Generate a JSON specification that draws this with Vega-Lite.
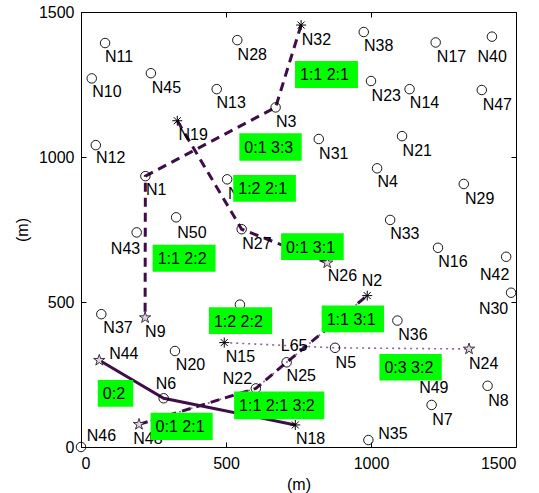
{
  "$schema": "https://vega.github.io/schema/vega-lite/v6.json",
  "width": 435,
  "height": 435,
  "autosize": {"type": "none"},
  "padding": {"left": 81, "top": 12, "right": 23, "bottom": 46},
  "background": "white",
  "config": {
    "font": "Liberation Sans",
    "view": {"stroke": "black", "strokeWidth": 1},
    "axis": {
      "grid": false,
      "domain": false,
      "labelFont": "Liberation Sans",
      "labelFontSize": 16,
      "labelColor": "black",
      "titleFont": "Liberation Sans",
      "titleFontSize": 16,
      "titleFontWeight": "normal",
      "titleColor": "black",
      "tickColor": "black",
      "tickSize": -5,
      "format": "d"
    }
  },
  "datasets": {
    "nodes": [
      {"name": "N1", "x": 222, "y": 934, "kind": "circle"},
      {"name": "N2", "x": 987, "y": 522, "kind": "asterisk"},
      {"name": "N3", "x": 671, "y": 1171, "kind": "circle"},
      {"name": "N4", "x": 1021, "y": 961, "kind": "circle"},
      {"name": "N5", "x": 876, "y": 342, "kind": "circle"},
      {"name": "N6", "x": 285, "y": 168, "kind": "circle"},
      {"name": "N7", "x": 1209, "y": 145, "kind": "circle"},
      {"name": "N8", "x": 1402, "y": 211, "kind": "circle"},
      {"name": "N9", "x": 221, "y": 446, "kind": "star"},
      {"name": "N10", "x": 37, "y": 1271, "kind": "circle"},
      {"name": "N11", "x": 83, "y": 1393, "kind": "circle"},
      {"name": "N12", "x": 51, "y": 1041, "kind": "circle"},
      {"name": "N13", "x": 468, "y": 1234, "kind": "circle"},
      {"name": "N14", "x": 1133, "y": 1234, "kind": "circle"},
      {"name": "N15", "x": 494, "y": 360, "kind": "asterisk"},
      {"name": "N16", "x": 1231, "y": 687, "kind": "circle"},
      {"name": "N17", "x": 1223, "y": 1395, "kind": "circle"},
      {"name": "N18", "x": 739, "y": 76, "kind": "asterisk"},
      {"name": "N19", "x": 332, "y": 1125, "kind": "asterisk"},
      {"name": "N20", "x": 324, "y": 331, "kind": "circle"},
      {"name": "N21", "x": 1107, "y": 1072, "kind": "circle"},
      {"name": "N22", "x": 603, "y": 202, "kind": "circle"},
      {"name": "N23", "x": 1000, "y": 1262, "kind": "circle"},
      {"name": "N24", "x": 1338, "y": 338, "kind": "star"},
      {"name": "N25", "x": 709, "y": 292, "kind": "circle"},
      {"name": "N26", "x": 849, "y": 635, "kind": "star"},
      {"name": "N27", "x": 554, "y": 751, "kind": "circle"},
      {"name": "N28", "x": 539, "y": 1403, "kind": "circle"},
      {"name": "N29", "x": 1320, "y": 907, "kind": "circle"},
      {"name": "N30", "x": 1483, "y": 532, "kind": "circle"},
      {"name": "N31", "x": 820, "y": 1062, "kind": "circle"},
      {"name": "N32", "x": 759, "y": 1455, "kind": "asterisk"},
      {"name": "N33", "x": 1066, "y": 783, "kind": "circle"},
      {"name": "N34", "x": 504, "y": 923, "kind": "circle"},
      {"name": "N35", "x": 991, "y": 24, "kind": "circle"},
      {"name": "N36", "x": 1091, "y": 436, "kind": "circle"},
      {"name": "N37", "x": 70, "y": 458, "kind": "circle"},
      {"name": "N38", "x": 975, "y": 1431, "kind": "circle"},
      {"name": "N39", "x": 548, "y": 491, "kind": "circle"},
      {"name": "N40", "x": 1417, "y": 1415, "kind": "circle"},
      {"name": "N42", "x": 1466, "y": 656, "kind": "circle"},
      {"name": "N43", "x": 192, "y": 740, "kind": "circle"},
      {"name": "N44", "x": 63, "y": 299, "kind": "star"},
      {"name": "N45", "x": 241, "y": 1289, "kind": "circle"},
      {"name": "N46", "x": 0, "y": 0, "kind": "circle"},
      {"name": "N47", "x": 1382, "y": 1231, "kind": "circle"},
      {"name": "N48", "x": 200, "y": 78, "kind": "star"},
      {"name": "N49", "x": 1166, "y": 255, "kind": "circle"},
      {"name": "N50", "x": 328, "y": 792, "kind": "circle"}
    ],
    "labels": [
      {"text": "N1", "x": 224, "y": 890},
      {"text": "N2", "x": 968, "y": 576},
      {"text": "N3", "x": 672, "y": 1125},
      {"text": "N4", "x": 1022, "y": 917},
      {"text": "N5", "x": 878, "y": 292},
      {"text": "N6", "x": 258, "y": 220},
      {"text": "N7", "x": 1211, "y": 97},
      {"text": "N8", "x": 1404, "y": 162},
      {"text": "N9", "x": 221, "y": 400},
      {"text": "N10", "x": 39, "y": 1229},
      {"text": "N11", "x": 83, "y": 1348},
      {"text": "N12", "x": 52, "y": 999},
      {"text": "N13", "x": 467, "y": 1191},
      {"text": "N14", "x": 1134, "y": 1191},
      {"text": "N15", "x": 499, "y": 314},
      {"text": "N16", "x": 1232, "y": 642},
      {"text": "N17", "x": 1227, "y": 1348},
      {"text": "N18", "x": 741, "y": 30},
      {"text": "N19", "x": 336, "y": 1079},
      {"text": "N20", "x": 327, "y": 285},
      {"text": "N21", "x": 1109, "y": 1024},
      {"text": "N22", "x": 489, "y": 239},
      {"text": "N23", "x": 1002, "y": 1214},
      {"text": "N24", "x": 1338, "y": 289},
      {"text": "N25", "x": 709, "y": 248},
      {"text": "N26", "x": 851, "y": 593},
      {"text": "N27", "x": 556, "y": 702},
      {"text": "N28", "x": 540, "y": 1355},
      {"text": "N29", "x": 1324, "y": 860},
      {"text": "N30", "x": 1372, "y": 480},
      {"text": "N31", "x": 821, "y": 1015},
      {"text": "N32", "x": 761, "y": 1406},
      {"text": "N33", "x": 1066, "y": 737},
      {"text": "N34", "x": 507, "y": 876},
      {"text": "N35", "x": 1025, "y": 47},
      {"text": "N36", "x": 1094, "y": 389},
      {"text": "N37", "x": 77, "y": 415},
      {"text": "N38", "x": 976, "y": 1386},
      {"text": "N40", "x": 1367, "y": 1348},
      {"text": "N42", "x": 1376, "y": 596},
      {"text": "N43", "x": 103, "y": 685},
      {"text": "N44", "x": 97, "y": 323},
      {"text": "N45", "x": 244, "y": 1242},
      {"text": "N46", "x": 20, "y": 41},
      {"text": "N47", "x": 1385, "y": 1183},
      {"text": "N48", "x": 180, "y": 30},
      {"text": "N49", "x": 1166, "y": 208},
      {"text": "N50", "x": 332, "y": 742},
      {"text": "L65", "x": 689, "y": 352}
    ],
    "paths": [
      {"route": "A", "style": "dashed", "seq": 1, "x": 759, "y": 1455},
      {"route": "A", "style": "dashed", "seq": 2, "x": 671, "y": 1171},
      {"route": "A", "style": "dashed", "seq": 3, "x": 222, "y": 934},
      {"route": "A", "style": "dashed", "seq": 4, "x": 221, "y": 446},
      {"route": "B", "style": "dashed", "seq": 1, "x": 332, "y": 1125},
      {"route": "B", "style": "dashed", "seq": 2, "x": 554, "y": 751},
      {"route": "B", "style": "dashed", "seq": 3, "x": 849, "y": 635},
      {"route": "C", "style": "dashed", "seq": 1, "x": 200, "y": 78},
      {"route": "C", "style": "dashed", "seq": 2, "x": 603, "y": 202},
      {"route": "C", "style": "dashed", "seq": 3, "x": 709, "y": 292},
      {"route": "C", "style": "dashed", "seq": 4, "x": 987, "y": 522},
      {"route": "D", "style": "solid", "seq": 1, "x": 63, "y": 299},
      {"route": "D", "style": "solid", "seq": 2, "x": 285, "y": 168},
      {"route": "D", "style": "solid", "seq": 3, "x": 739, "y": 76},
      {"route": "E", "style": "thin", "seq": 1, "x": 494, "y": 360},
      {"route": "E", "style": "thin", "seq": 2, "x": 876, "y": 342},
      {"route": "E", "style": "thin", "seq": 3, "x": 1338, "y": 338},
      {"route": "F", "style": "thin", "seq": 1, "x": 200, "y": 78},
      {"route": "F", "style": "thin", "seq": 2, "x": 603, "y": 202},
      {"route": "F", "style": "thin", "seq": 3, "x": 709, "y": 292},
      {"route": "F", "style": "thin", "seq": 4, "x": 987, "y": 522}
    ],
    "boxes": [
      {"text": "1:1 2:1", "x": 738, "xe": 955, "y": 1238, "ye": 1331, "yc": 1285},
      {"text": "0:1 3:3", "x": 546, "xe": 761, "y": 987, "ye": 1082, "yc": 1035},
      {"text": "1:2 2:1", "x": 525, "xe": 741, "y": 846, "ye": 938, "yc": 892},
      {"text": "0:1 3:1", "x": 690, "xe": 906, "y": 645, "ye": 737, "yc": 691},
      {"text": "1:1 2:2", "x": 247, "xe": 464, "y": 604, "ye": 697, "yc": 651},
      {"text": "1:2 2:2", "x": 441, "xe": 659, "y": 390, "ye": 482, "yc": 436},
      {"text": "1:1 3:1", "x": 830, "xe": 1045, "y": 396, "ye": 488, "yc": 442},
      {"text": "0:3 3:2", "x": 1029, "xe": 1244, "y": 229, "ye": 321, "yc": 275},
      {"text": "0:2", "x": 58, "xe": 180, "y": 139, "ye": 231, "yc": 185},
      {"text": "0:1 2:1", "x": 240, "xe": 454, "y": 24, "ye": 118, "yc": 71},
      {"text": "1:1 2:1 3:2", "x": 528, "xe": 839, "y": 96, "ye": 191, "yc": 144}
    ]
  },
  "encoding": {
    "x": {"field": "x", "type": "quantitative", "scale": {"domain": [0, 1500], "nice": false, "zero": false}, "axis": null},
    "y": {"field": "y", "type": "quantitative", "scale": {"domain": [0, 1500], "nice": false, "zero": false}, "axis": null}
  },
  "layer": [
    {
      "data": {"name": "paths"},
      "transform": [{"filter": "datum.style === 'thin'"}],
      "mark": {"type": "line", "color": "#8e6399", "strokeWidth": 1.6, "strokeDash": [2, 4]},
      "encoding": {
        "x": {"field": "x", "type": "quantitative", "scale": {"domain": [0, 1500], "nice": false, "zero": false},
              "axis": {"orient": "bottom", "values": [0, 500, 1000, 1500], "format": "d", "title": "(m)", "labelPadding": 13, "titlePadding": 5}},
        "y": {"field": "y", "type": "quantitative", "scale": {"domain": [0, 1500], "nice": false, "zero": false},
              "axis": {"orient": "left", "values": [0, 500, 1000, 1500], "format": "d", "title": "(m)", "labelPadding": 12, "titlePadding": 8}},
        "detail": {"field": "route"},
        "order": {"field": "seq", "type": "quantitative"}
      }
    },
    {
      "data": {"name": "paths"},
      "transform": [{"filter": "datum.style === 'dashed'"}],
      "mark": {"type": "line", "color": "#3f0d47", "strokeWidth": 3, "strokeDash": [9, 6]},
      "encoding": {
        "detail": {"field": "route"},
        "order": {"field": "seq", "type": "quantitative"}
      }
    },
    {
      "data": {"name": "paths"},
      "transform": [{"filter": "datum.style === 'solid'"}],
      "mark": {"type": "line", "color": "#3f0d47", "strokeWidth": 3},
      "encoding": {
        "detail": {"field": "route"},
        "order": {"field": "seq", "type": "quantitative"}
      }
    },
    {
      "data": {"name": "nodes"},
      "transform": [{"filter": "datum.kind === 'circle'"}],
      "mark": {"type": "point", "shape": "circle", "filled": false, "stroke": "black", "strokeWidth": 0.9, "size": 90, "opacity": 1}
    },
    {
      "data": {"name": "nodes"},
      "transform": [{"filter": "datum.kind === 'star'"}],
      "mark": {"type": "point", "shape": "M0,-1L0.225,-0.309L0.951,-0.309L0.363,0.118L0.588,0.809L0,0.382L-0.588,0.809L-0.363,0.118L-0.951,-0.309L-0.225,-0.309Z", "filled": true, "fill": "#e2d3e8", "stroke": "#222222", "strokeWidth": 0.9, "size": 140, "opacity": 1},
      "encoding": {
        "x": {"field": "x", "type": "quantitative", "scale": {"domain": [0, 1500], "nice": false, "zero": false},
              "axis": {"orient": "top", "values": [0, 500, 1000, 1500], "labels": false, "title": null}},
        "y": {"field": "y", "type": "quantitative", "scale": {"domain": [0, 1500], "nice": false, "zero": false},
              "axis": {"orient": "right", "values": [0, 500, 1000, 1500], "labels": false, "title": null}}
      }
    },
    {
      "data": {"name": "nodes"},
      "transform": [{"filter": "datum.kind === 'asterisk'"}],
      "mark": {"type": "point", "shape": "M-1,0L1,0M0,-1L0,1M-0.7,-0.7L0.7,0.7M-0.7,0.7L0.7,-0.7", "filled": false, "stroke": "black", "strokeWidth": 1, "size": 100, "opacity": 1}
    },
    {
      "data": {"name": "labels"},
      "mark": {"type": "text", "align": "left", "baseline": "middle", "fontSize": 16, "font": "Liberation Sans", "color": "black", "dy": 1},
      "encoding": {"text": {"field": "text"}}
    },
    {
      "data": {"name": "boxes"},
      "mark": {"type": "rect", "color": "#00ff00", "opacity": 1},
      "encoding": {
        "x2": {"field": "xe"},
        "y2": {"field": "ye"}
      }
    },
    {
      "data": {"name": "boxes"},
      "mark": {"type": "text", "align": "left", "baseline": "middle", "fontSize": 16, "font": "Liberation Sans", "color": "black", "dx": 5, "dy": 1},
      "encoding": {
        "y": {"field": "yc", "type": "quantitative", "scale": {"domain": [0, 1500], "nice": false, "zero": false}, "axis": null},
        "text": {"field": "text"}
      }
    }
  ],
  "resolve": {"axis": {"x": "independent", "y": "independent"}}
}
